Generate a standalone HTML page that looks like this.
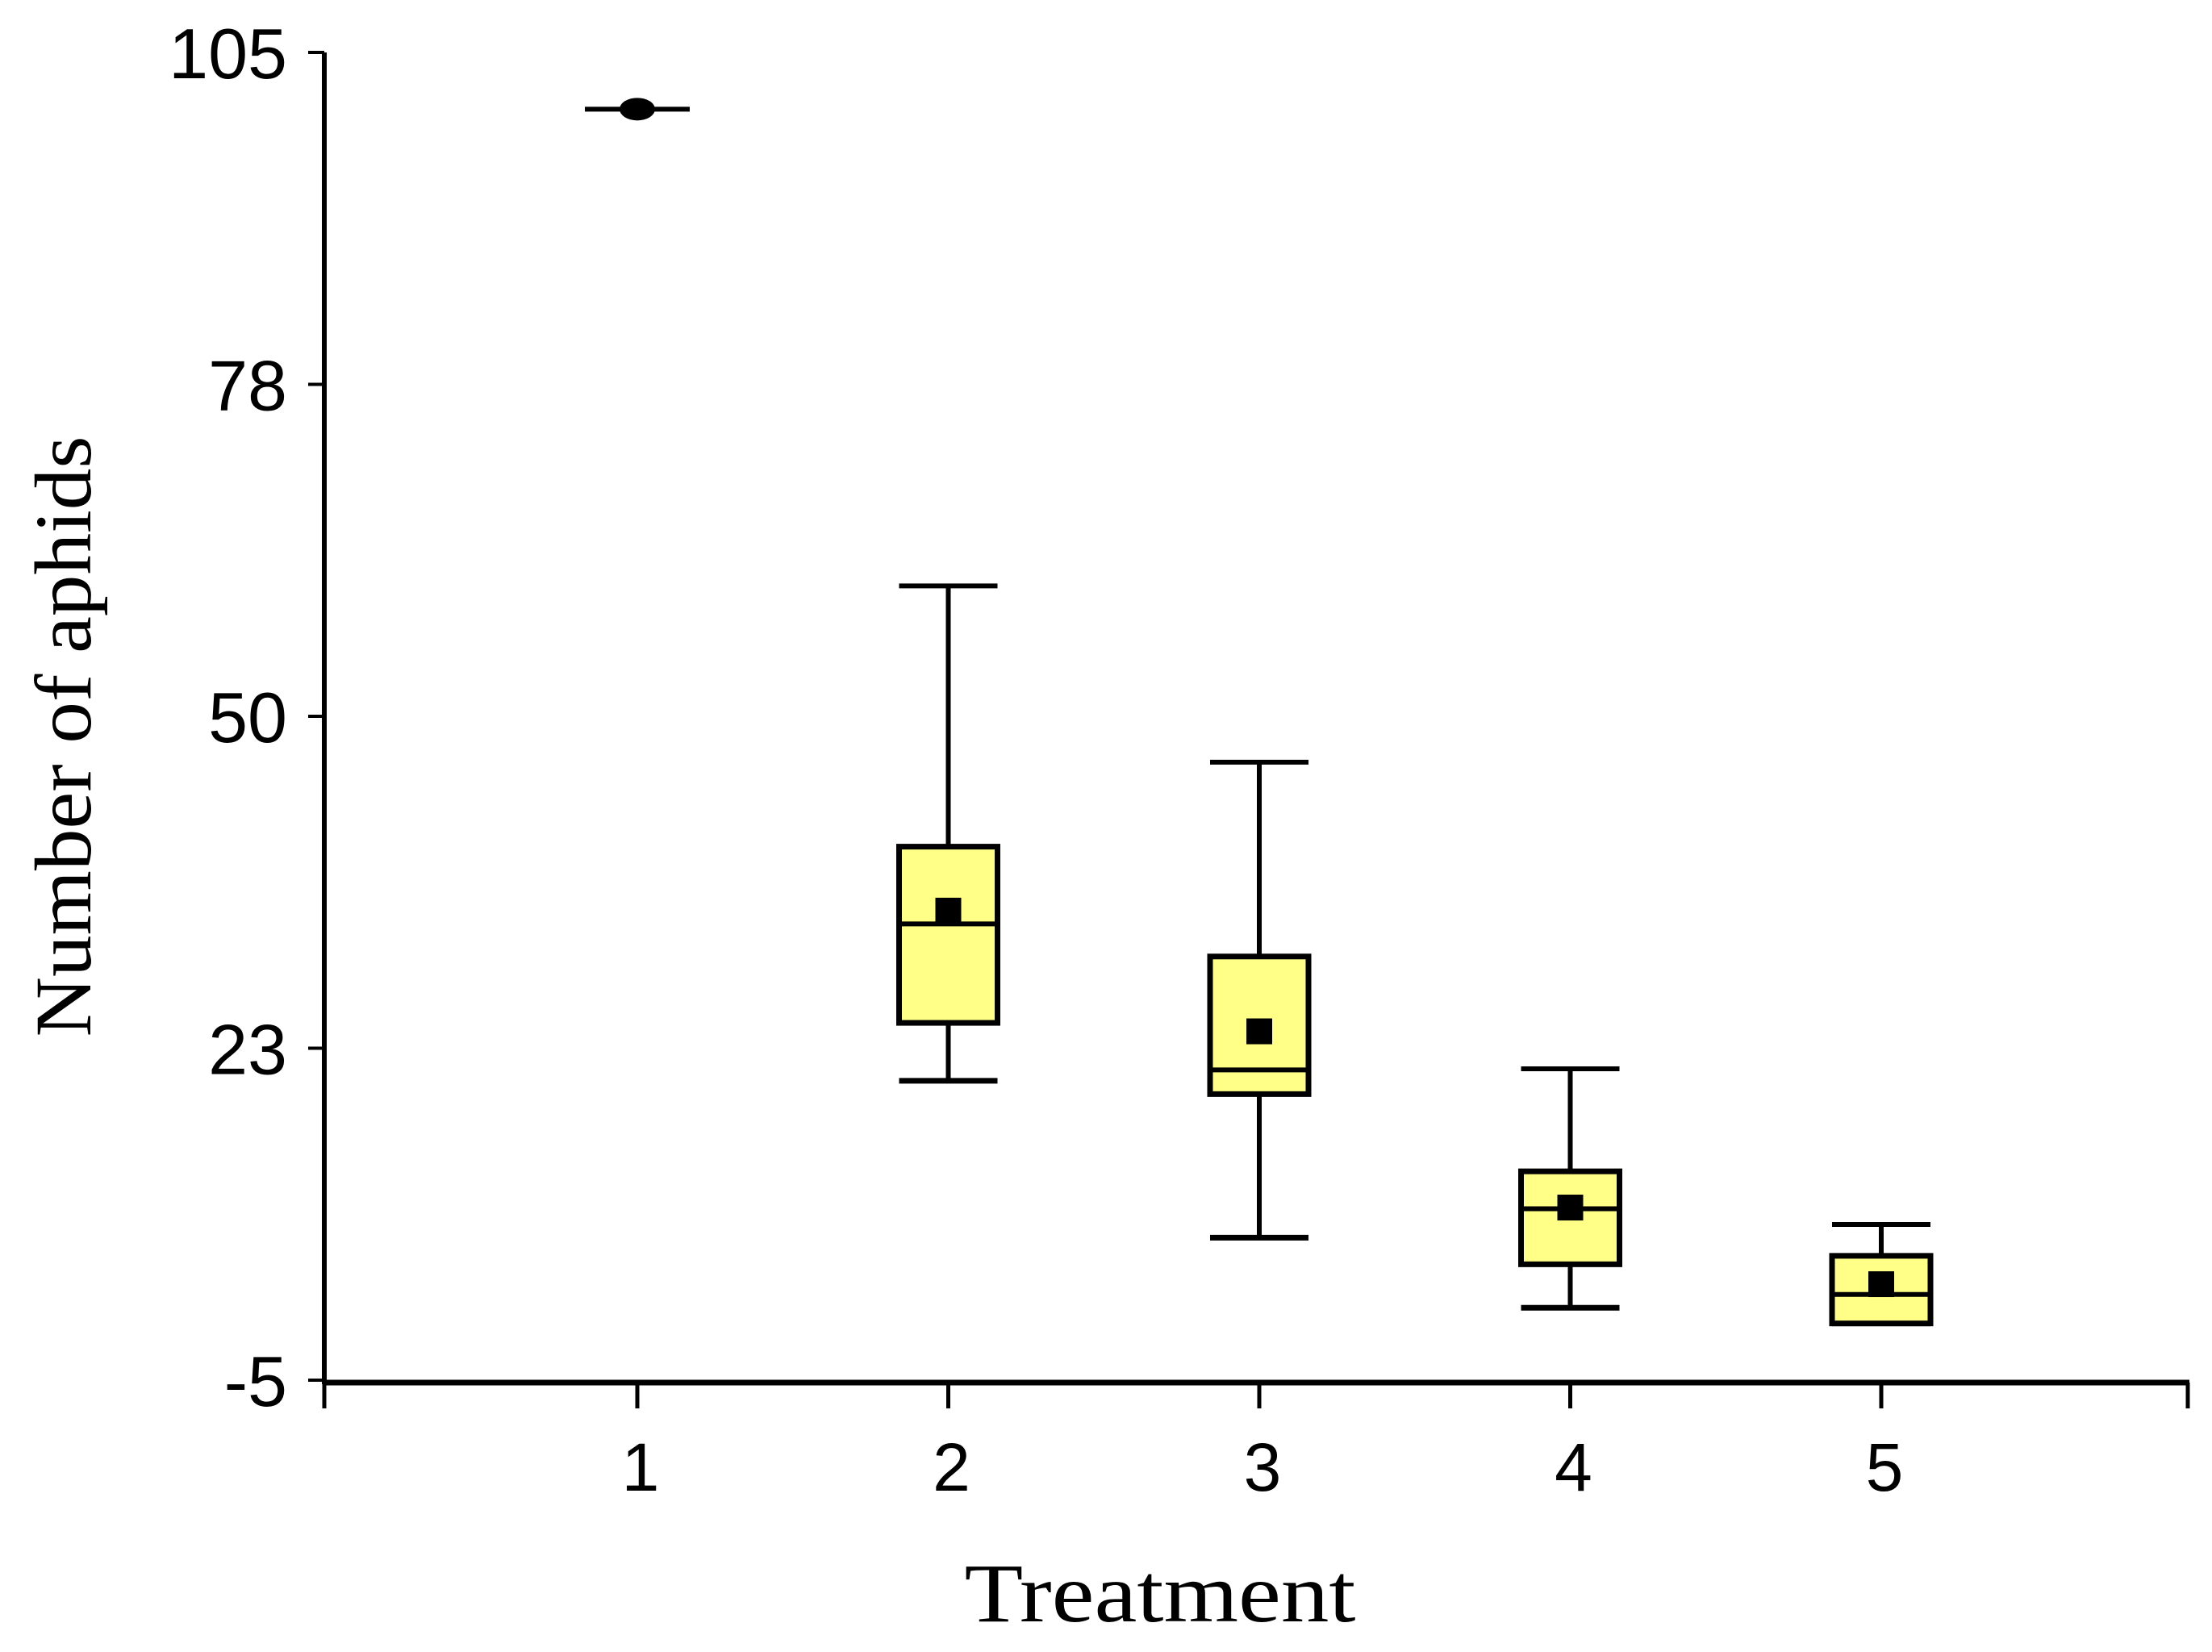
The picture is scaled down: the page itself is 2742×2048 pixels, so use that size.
<!DOCTYPE html>
<html><head><meta charset="utf-8"><style>html,body{margin:0;padding:0;background:#fff}svg{display:block}</style></head>
<body>
<svg id="chart" width="2742" height="2048" viewBox="0 0 2742 2048" xmlns="http://www.w3.org/2000/svg">
<g id="axes"></g><g id="boxes"></g>
<text x="1438" y="2010" font-family="Liberation Serif, serif" font-size="104" text-anchor="middle" textLength="485" lengthAdjust="spacingAndGlyphs">Treatment</text>
<text transform="translate(112,913) rotate(-90)" font-family="Liberation Serif, serif" font-size="100" text-anchor="middle" textLength="745" lengthAdjust="spacingAndGlyphs">Number of aphids</text>
</svg>
<script>
const categories = ["1","2","3","4","5"];
const whiskerHigh = [100.3, 60.8, 46.2, 20.8, 7.9];
const q3Values = [100.3, 39.2, 30.1, 12.3, 5.3];
const medianValues = [100.3, 32.8, 20.7, 9.2, 2.1];
const meanValues = [100.3, 33.9, 23.9, 9.3, 2.95];
const q1Values = [100.3, 24.6, 18.7, 4.6, -0.3];
const whiskerLow = [100.3, 19.8, 6.8, 1.0, -0.3];
const yTicks = [105, 78, 50, 23, -5];

const NS = "http://www.w3.org/2000/svg";
const yTop = 65, yBot = 1711, xLeft = 402, xRight = 2714;
function yScale(v){ return yBot - (v - (-5)) / 110 * (yBot - yTop); }
function yTickPos(i){ return yTop + i * (yBot - yTop) / (yTicks.length - 1); }
function xScale(i){ return 790 + i * 385.5; }
function mk(tag, attrs, parent){ const e = document.createElementNS(NS, tag); for (const k in attrs) e.setAttribute(k, attrs[k]); parent.appendChild(e); return e; }
const axes = document.getElementById('axes'), boxes = document.getElementById('boxes');

let yl = mk('line', {x1:xLeft, y1:yTop, x2:xLeft, y2:1716, stroke:'#000','stroke-width':6}, axes);


let xl = mk('line', {x1:xLeft, y1:1714, x2:xRight, y2:1714, stroke:'#000','stroke-width':7}, axes);


mk('line', {x1:xLeft, y1:1714, x2:xLeft, y2:1746, stroke:'#000','stroke-width':5}, axes);
mk('line', {x1:xRight-2, y1:1714, x2:xRight-2, y2:1746, stroke:'#000','stroke-width':5}, axes);

yTicks.forEach((t, i) => {
  const y = yTickPos(i);
  const tk = mk('line', {x1:xLeft-20, y1:y, x2:xLeft, y2:y, stroke:'#000','stroke-width':4}, axes);
  
  
  const lb = mk('text', {x:xLeft-46, y:y+32, 'font-family':'Liberation Sans, sans-serif','font-size':88,'text-anchor':'end'}, axes);
  lb.textContent = t;
  
  
});

categories.forEach((c, i) => {
  const x = xScale(i);
  const tk = mk('line', {x1:x, y1:1714, x2:x, y2:1746, stroke:'#000','stroke-width':5}, axes);
  
  
  const lb = mk('text', {x:x+4, y:1848, 'font-family':'Liberation Sans, sans-serif','font-size':84,'text-anchor':'middle'}, axes);
  lb.textContent = c;
  
  

  const g = mk('g', {}, boxes);
  
  
  const hw = 61;
  const yh = yScale(whiskerHigh[i]), yq3 = yScale(q3Values[i]), ym = yScale(medianValues[i]);
  const yq1 = yScale(q1Values[i]), yl2 = yScale(whiskerLow[i]), ymean = yScale(meanValues[i]);
  if (i === 0) {
    mk('line', {x1:x-65, y1:ym, x2:x+65, y2:ym, stroke:'#000','stroke-width':6}, g);
    mk('ellipse', {cx:x, cy:ymean, rx:22, ry:14, fill:'#000'}, g);
    return;
  }
  mk('line', {x1:x, y1:yh, x2:x, y2:yq3, stroke:'#000','stroke-width':6}, g);
  mk('line', {x1:x, y1:yq1, x2:x, y2:yl2, stroke:'#000','stroke-width':6}, g);
  mk('line', {x1:x-hw, y1:yh, x2:x+hw, y2:yh, stroke:'#000','stroke-width':6}, g);
  mk('line', {x1:x-hw, y1:yl2, x2:x+hw, y2:yl2, stroke:'#000','stroke-width':7}, g);
  mk('rect', {x:x-hw, y:yq3, width:hw*2, height:Math.max(yq1-yq3,1), fill:'#ffff88', stroke:'#000','stroke-width':7}, g);
  mk('line', {x1:x-hw, y1:ym, x2:x+hw, y2:ym, stroke:'#000','stroke-width':6}, g);
  mk('rect', {x:x-16, y:ymean-16, width:32, height:32, fill:'#000'}, g);
});
</script>
</body></html>
